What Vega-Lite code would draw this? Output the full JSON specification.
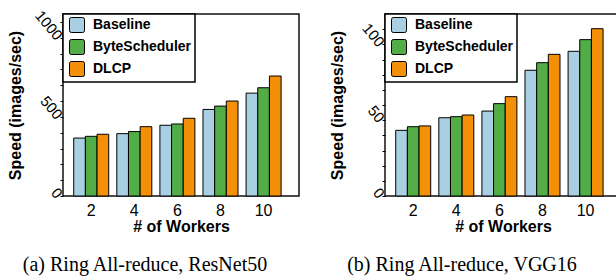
{
  "$schema": "https://vega.github.io/schema/vega-lite/v6.json",
  "padding": {"left": 6, "top": 6, "right": 0, "bottom": 0},
  "spacing": 28,
  "background": "white",
  "datasets": {
    "resnet": [
      {"workers": 2, "series": "Baseline", "speed": 366},
      {"workers": 2, "series": "ByteScheduler", "speed": 377},
      {"workers": 2, "series": "DLCP", "speed": 390},
      {"workers": 4, "series": "Baseline", "speed": 394},
      {"workers": 4, "series": "ByteScheduler", "speed": 407},
      {"workers": 4, "series": "DLCP", "speed": 438},
      {"workers": 6, "series": "Baseline", "speed": 447},
      {"workers": 6, "series": "ByteScheduler", "speed": 455},
      {"workers": 6, "series": "DLCP", "speed": 491},
      {"workers": 8, "series": "Baseline", "speed": 547},
      {"workers": 8, "series": "ByteScheduler", "speed": 568},
      {"workers": 8, "series": "DLCP", "speed": 600},
      {"workers": 10, "series": "Baseline", "speed": 650},
      {"workers": 10, "series": "ByteScheduler", "speed": 684},
      {"workers": 10, "series": "DLCP", "speed": 758}
    ],
    "vgg": [
      {"workers": 2, "series": "Baseline", "speed": 43.3},
      {"workers": 2, "series": "ByteScheduler", "speed": 45.7},
      {"workers": 2, "series": "DLCP", "speed": 46.2},
      {"workers": 4, "series": "Baseline", "speed": 51.6},
      {"workers": 4, "series": "ByteScheduler", "speed": 52.3},
      {"workers": 4, "series": "DLCP", "speed": 53.4},
      {"workers": 6, "series": "Baseline", "speed": 56.0},
      {"workers": 6, "series": "ByteScheduler", "speed": 60.9},
      {"workers": 6, "series": "DLCP", "speed": 65.5},
      {"workers": 8, "series": "Baseline", "speed": 82.9},
      {"workers": 8, "series": "ByteScheduler", "speed": 87.9},
      {"workers": 8, "series": "DLCP", "speed": 93.4},
      {"workers": 10, "series": "Baseline", "speed": 95.4},
      {"workers": 10, "series": "ByteScheduler", "speed": 103.1},
      {"workers": 10, "series": "DLCP", "speed": 110.3}
    ]
  },
  "config": {
    "font": "Liberation Sans",
    "view": {"stroke": "#111111", "strokeWidth": 1.5},
    "axisY": {
      "domain": false, "grid": false, "ticks": true, "tickSize": 3, "tickColor": "black", "tickWidth": 1,
      "labelAngle": 50, "labelAlign": "right", "labelBaseline": "middle", "labelOverlap": false,
      "labelFont": "Liberation Sans", "labelFontSize": 15, "labelColor": "black", "labelPadding": 1,
      "titleFont": "Liberation Sans", "titleFontSize": 16, "titleFontWeight": "bold", "titleColor": "black",
      "titleX": -48, "titleY": 91, "titleBaseline": "middle", "titleAngle": 270
    },
    "axisX": {
      "domain": false, "grid": false, "ticks": false, "tickSize": 0,
      "labelAngle": 0, "labelFont": "Liberation Sans", "labelFontSize": 16, "labelColor": "black",
      "labelBaseline": "alphabetic", "labelPadding": 19, "labelDx": 3,
      "titleFont": "Liberation Sans", "titleFontSize": 16, "titleFontWeight": "bold", "titleColor": "black",
      "titleBaseline": "alphabetic", "titleY": 35, "titleX": 118
    },
    "legend": {
      "orient": "top-left", "offset": 0,
      "strokeColor": "black", "strokeWidth": 1.5, "fillColor": "white", "padding": 3,
      "labelFont": "Liberation Sans", "labelFontSize": 14, "labelFontWeight": "bold", "labelColor": "black",
      "labelOffset": 8, "symbolOffset": 3, "rowPadding": 2,
      "symbolType": "M -0.75,-1 L 0.75,-1 Q 1,-1 1,-0.75 L 1,0.75 Q 1,1 0.75,1 L -0.75,1 Q -1,1 -1,0.75 L -1,-0.75 Q -1,-1 -0.75,-1 Z",
      "symbolSize": 225, "symbolStrokeColor": "black", "symbolStrokeWidth": 1, "symbolOpacity": 1
    },
    "title": {"font": "Liberation Serif", "fontSize": 20, "fontWeight": "normal", "color": "black"}
  },
  "resolve": {"legend": {"color": "independent"}},
  "hconcat": [
    {
      "width": 236, "height": 182,
      "data": {"name": "resnet"},
      "title": {"text": "(a) Ring All-reduce, ResNet50", "orient": "bottom", "offset": 21, "dx": -36},
      "mark": {"type": "bar", "stroke": "black", "strokeWidth": 1, "opacity": 1},
      "encoding": {
        "x": {"field": "workers", "type": "ordinal", "sort": "ascending",
              "scale": {"paddingInner": 0.188, "paddingOuter": 0.33, "range": [-3.5, 232.3]},
              "axis": {"title": "# of Workers"}},
        "xOffset": {"field": "series", "sort": ["Baseline", "ByteScheduler", "DLCP"]},
        "y": {"field": "speed", "type": "quantitative",
              "scale": {"domain": [0, 1150], "nice": false},
              "axis": {"title": "Speed (images/sec)", "values": [0, 100, 200, 300, 400, 500, 600, 700, 800, 900, 1000, 1100],
                       "labelExpr": "datum.value % 500 === 0 ? '' + datum.value : ''"}},
        "color": {"field": "series", "type": "nominal",
                  "scale": {"domain": ["Baseline", "ByteScheduler", "DLCP"], "range": ["#a8d0e2", "#52ad47", "#f39008"]},
                  "legend": {"title": null}}
      }
    },
    {
      "width": 236, "height": 182,
      "data": {"name": "vgg"},
      "title": {"text": "(b) Ring All-reduce, VGG16", "orient": "bottom", "offset": 21, "dx": -41},
      "mark": {"type": "bar", "stroke": "black", "strokeWidth": 1, "opacity": 1},
      "encoding": {
        "x": {"field": "workers", "type": "ordinal", "sort": "ascending",
              "scale": {"paddingInner": 0.188, "paddingOuter": 0.33, "range": [-3.5, 232.3]},
              "axis": {"title": "# of Workers"}},
        "xOffset": {"field": "series", "sort": ["Baseline", "ByteScheduler", "DLCP"]},
        "y": {"field": "speed", "type": "quantitative",
              "scale": {"domain": [0, 120], "nice": false},
              "axis": {"title": "Speed (images/sec)", "values": [0, 10, 20, 30, 40, 50, 60, 70, 80, 90, 100, 110],
                       "labelExpr": "datum.value % 50 === 0 ? '' + datum.value : ''"}},
        "color": {"field": "series", "type": "nominal",
                  "scale": {"domain": ["Baseline", "ByteScheduler", "DLCP"], "range": ["#a8d0e2", "#52ad47", "#f39008"]},
                  "legend": {"title": null}}
      }
    }
  ]
}
